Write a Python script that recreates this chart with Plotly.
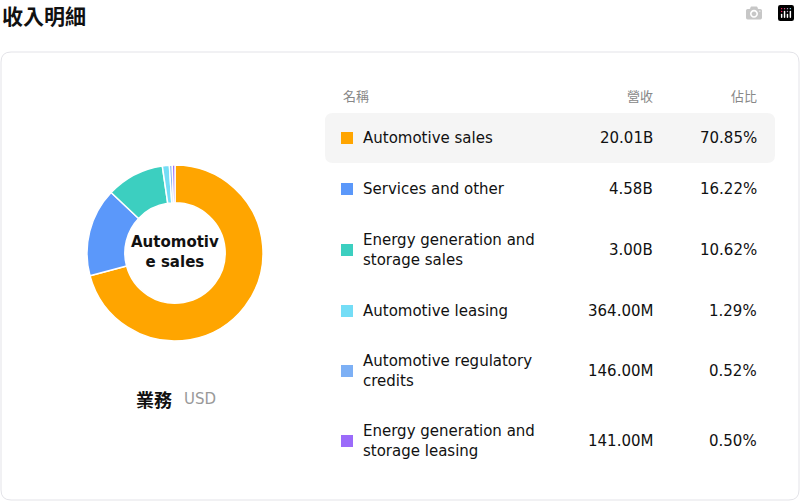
import plotly.graph_objects as go

names = ["Automotive sales", "Services and other", "Energy generation and<br>storage sales",
         "Automotive leasing", "Automotive regulatory<br>credits", "Energy generation and<br>storage leasing"]
revenue = ["20.01B", "4.58B", "3.00B", "364.00M", "146.00M", "141.00M"]
values = [20.01, 4.58, 3.00, 0.364, 0.146, 0.141]
shares = ["70.85%", "16.22%", "10.62%", "1.29%", "0.52%", "0.50%"]
colors = ["#FFA500", "#5B98FA", "#3CCFC0", "#74DDF6", "#7DB0F5", "#9B6BFA"]
row_y = [138, 189, 250, 311, 371, 441]

W, H = 800, 501
def px(x): return x / W
def py(y): return 1 - y / H

fig = go.Figure()
fig.add_trace(go.Pie(values=values, labels=[n.replace("<br>", " ") for n in names],
                     marker=dict(colors=colors, line=dict(color="white", width=1.5)),
                     hole=0.57, sort=False, direction="clockwise", rotation=0,
                     textinfo="none", hoverinfo="label+percent", showlegend=False,
                     domain=dict(x=[px(87), px(263)], y=[py(341), py(165)])))

def rrect(x0, y0, x1, y1, r):
    return (f"M{px(x0+r)},{py(y0)} L{px(x1-r)},{py(y0)} Q{px(x1)},{py(y0)} {px(x1)},{py(y0+r)} "
            f"L{px(x1)},{py(y1-r)} Q{px(x1)},{py(y1)} {px(x1-r)},{py(y1)} L{px(x0+r)},{py(y1)} "
            f"Q{px(x0)},{py(y1)} {px(x0)},{py(y1-r)} L{px(x0)},{py(y0+r)} Q{px(x0)},{py(y0)} {px(x0+r)},{py(y0)} Z")

shapes = [
    dict(type="path", path=rrect(1, 52, 799, 500, 10), xref="paper", yref="paper",
         line=dict(color="#E3E3E8", width=1), fillcolor="white", layer="below"),
    dict(type="path", path=rrect(325, 113, 775, 163, 8), xref="paper", yref="paper",
         line=dict(width=0), fillcolor="#F5F5F5", layer="below"),
]
for y, c in zip(row_y, colors):
    shapes.append(dict(type="rect", xref="paper", yref="paper", x0=px(341), x1=px(353),
                       y0=py(y + 6), y1=py(y - 6), fillcolor=c, line=dict(width=0)))

F = "DejaVu Sans"
ann = []
def T(x, y, t, size=15, color="#111", xanchor="left", bold=False, family=F):
    ann.append(dict(x=px(x), y=py(y), xref="paper", yref="paper", text=f"<b>{t}</b>" if bold else t,
                    showarrow=False, xanchor=xanchor, yanchor="middle", align="left",
                    font=dict(family=family, size=size, color=color)))

CJK = "Noto Sans CJK TC"
T(0, 15, "收入明細", size=21, bold=True, family=CJK)
T(175, 252, "Automotiv<br>e sales", size=15, xanchor="center", bold=True)
ann[-1]["align"] = "center"
T(174, 399, "業務", size=18, xanchor="right", bold=True, family=CJK)
T(182, 399, "USD", size=15, color="#999")
T(341, 95, "名稱", size=13, color="#888", family=CJK)
T(655, 95, "營收", size=13, color="#888", xanchor="right", family=CJK)
T(759, 95, "佔比", size=13, color="#888", xanchor="right", family=CJK)
for y, n, r, s in zip(row_y, names, revenue, shares):
    T(361, y, n)
    T(655, y, r, xanchor="right")
    T(759, y, s, xanchor="right")

fig.update_layout(width=W, height=H, margin=dict(l=0, r=0, t=0, b=0),
                  paper_bgcolor="white", plot_bgcolor="white", shapes=shapes, annotations=ann)
fig.write_html("out.html", post_script="document.body.style.margin='0';document.body.style.overflow='hidden';")
